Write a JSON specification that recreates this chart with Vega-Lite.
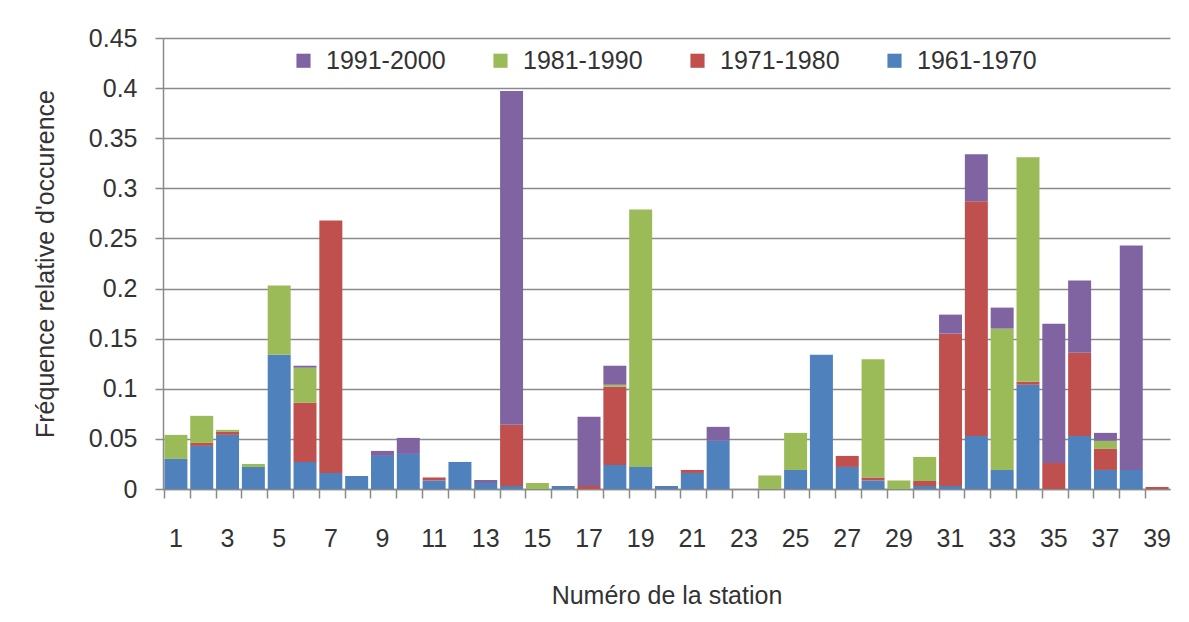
{
  "$schema": "https://vega.github.io/schema/vega-lite/v6.json",
  "autosize": "none",
  "width": 1007,
  "height": 451,
  "padding": {"left": 163, "top": 38, "right": 19, "bottom": 133},
  "background": "white",
  "config": {
    "font": "Liberation Sans",
    "view": {"stroke": null}
  },
  "data": {
    "values": [
      {"station": 1, "1961-1970": 0.030, "1971-1980": 0, "1981-1990": 0.024, "1991-2000": 0},
      {"station": 2, "1961-1970": 0.043, "1971-1980": 0.003, "1981-1990": 0.027, "1991-2000": 0},
      {"station": 3, "1961-1970": 0.054, "1971-1980": 0.003, "1981-1990": 0.002, "1991-2000": 0},
      {"station": 4, "1961-1970": 0.022, "1971-1980": 0, "1981-1990": 0.003, "1991-2000": 0},
      {"station": 5, "1961-1970": 0.134, "1971-1980": 0, "1981-1990": 0.069, "1991-2000": 0},
      {"station": 6, "1961-1970": 0.027, "1971-1980": 0.059, "1981-1990": 0.035, "1991-2000": 0.002},
      {"station": 7, "1961-1970": 0.016, "1971-1980": 0.252, "1981-1990": 0, "1991-2000": 0},
      {"station": 8, "1961-1970": 0.013, "1971-1980": 0, "1981-1990": 0, "1991-2000": 0},
      {"station": 9, "1961-1970": 0.033, "1971-1980": 0, "1981-1990": 0, "1991-2000": 0.005},
      {"station": 10, "1961-1970": 0.035, "1971-1980": 0, "1981-1990": 0, "1991-2000": 0.016},
      {"station": 11, "1961-1970": 0.0085, "1971-1980": 0.003, "1981-1990": 0, "1991-2000": 0},
      {"station": 12, "1961-1970": 0.027, "1971-1980": 0, "1981-1990": 0, "1991-2000": 0},
      {"station": 13, "1961-1970": 0.006, "1971-1980": 0, "1981-1990": 0, "1991-2000": 0.003},
      {"station": 14, "1961-1970": 0.003, "1971-1980": 0.061, "1981-1990": 0, "1991-2000": 0.333},
      {"station": 15, "1961-1970": 0, "1971-1980": 0, "1981-1990": 0.006, "1991-2000": 0},
      {"station": 16, "1961-1970": 0.003, "1971-1980": 0, "1981-1990": 0, "1991-2000": 0},
      {"station": 17, "1961-1970": 0, "1971-1980": 0.003, "1981-1990": 0, "1991-2000": 0.069},
      {"station": 18, "1961-1970": 0.024, "1971-1980": 0.078, "1981-1990": 0.002, "1991-2000": 0.019},
      {"station": 19, "1961-1970": 0.022, "1971-1980": 0, "1981-1990": 0.257, "1991-2000": 0},
      {"station": 20, "1961-1970": 0.003, "1971-1980": 0, "1981-1990": 0, "1991-2000": 0},
      {"station": 21, "1961-1970": 0.016, "1971-1980": 0.003, "1981-1990": 0, "1991-2000": 0},
      {"station": 22, "1961-1970": 0.048, "1971-1980": 0, "1981-1990": 0, "1991-2000": 0.014},
      {"station": 23, "1961-1970": 0, "1971-1980": 0, "1981-1990": 0, "1991-2000": 0},
      {"station": 24, "1961-1970": 0, "1971-1980": 0, "1981-1990": 0.0135, "1991-2000": 0},
      {"station": 25, "1961-1970": 0.019, "1971-1980": 0, "1981-1990": 0.037, "1991-2000": 0},
      {"station": 26, "1961-1970": 0.134, "1971-1980": 0, "1981-1990": 0, "1991-2000": 0},
      {"station": 27, "1961-1970": 0.022, "1971-1980": 0.011, "1981-1990": 0, "1991-2000": 0},
      {"station": 28, "1961-1970": 0.0085, "1971-1980": 0.003, "1981-1990": 0.118, "1991-2000": 0},
      {"station": 29, "1961-1970": 0, "1971-1980": 0, "1981-1990": 0.0085, "1991-2000": 0},
      {"station": 30, "1961-1970": 0.003, "1971-1980": 0.005, "1981-1990": 0.024, "1991-2000": 0},
      {"station": 31, "1961-1970": 0.003, "1971-1980": 0.152, "1981-1990": 0, "1991-2000": 0.019},
      {"station": 32, "1961-1970": 0.053, "1971-1980": 0.234, "1981-1990": 0, "1991-2000": 0.047},
      {"station": 33, "1961-1970": 0.019, "1971-1980": 0, "1981-1990": 0.141, "1991-2000": 0.021},
      {"station": 34, "1961-1970": 0.104, "1971-1980": 0.003, "1981-1990": 0.224, "1991-2000": 0},
      {"station": 35, "1961-1970": 0, "1971-1980": 0.026, "1981-1990": 0, "1991-2000": 0.139},
      {"station": 36, "1961-1970": 0.053, "1971-1980": 0.083, "1981-1990": 0, "1991-2000": 0.072},
      {"station": 37, "1961-1970": 0.019, "1971-1980": 0.021, "1981-1990": 0.008, "1991-2000": 0.008},
      {"station": 38, "1961-1970": 0.019, "1971-1980": 0, "1981-1990": 0, "1991-2000": 0.224},
      {"station": 39, "1961-1970": 0, "1971-1980": 0.002, "1981-1990": 0, "1991-2000": 0}
    ]
  },
  "transform": [
    {"fold": ["1961-1970", "1971-1980", "1981-1990", "1991-2000"], "as": ["period", "value"]}
  ],
  "mark": {"type": "bar"},
  "encoding": {
    "x": {
      "field": "station",
      "type": "ordinal",
      "scale": {
        "domain": [1,2,3,4,5,6,7,8,9,10,11,12,13,14,15,16,17,18,19,20,21,22,23,24,25,26,27,28,29,30,31,32,33,34,35,36,37,38,39],
        "paddingInner": 0.11,
        "paddingOuter": 0.055
      },
      "axis": {
        "title": "Numéro de la station",
        "titleFontSize": 25,
        "titleFontWeight": "normal",
        "titleColor": "#333",
        "titleBaseline": "middle",
        "titleY": 106,
        "labelAngle": 0,
        "labelFontSize": 25,
        "labelColor": "#333",
        "labelExpr": "datum.value % 2 == 1 ? datum.label : ''",
        "bandPosition": 0,
        "tickSize": 9,
        "tickColor": "#8a8a8a",
        "tickWidth": 1.5,
        "labelPadding": 28,
        "domainColor": "#8a8a8a",
        "domainWidth": 1.5,
        "grid": false
      }
    },
    "y": {
      "field": "value",
      "type": "quantitative",
      "stack": "zero",
      "scale": {"domain": [0, 0.45], "nice": false},
      "axis": {
        "title": "Fréquence relative d'occurence",
        "titleFontSize": 25,
        "titleFontWeight": "normal",
        "titleColor": "#333",
        "titleBaseline": "middle",
        "titleX": -118,
        "values": [0, 0.05, 0.1, 0.15, 0.2, 0.25, 0.3, 0.35, 0.4, 0.45],
        "format": ".2~f",
        "labelFontSize": 25,
        "labelColor": "#333",
        "labelPadding": 18,
        "tickSize": 8,
        "tickColor": "#8a8a8a",
        "tickWidth": 1.5,
        "domainColor": "#8a8a8a",
        "domainWidth": 1.5,
        "grid": true,
        "gridColor": "#8a8a8a",
        "gridWidth": 1.5
      }
    },
    "color": {
      "field": "period",
      "type": "nominal",
      "scale": {
        "domain": ["1991-2000", "1981-1990", "1971-1980", "1961-1970"],
        "range": ["#8064A2", "#9BBB59", "#C0504D", "#4F81BD"]
      },
      "legend": {
        "title": null,
        "orient": "none",
        "direction": "horizontal",
        "legendX": 128,
        "legendY": 10,
        "symbolType": "square",
        "symbolSize": 200,
        "symbolStrokeWidth": 0,
        "labelFontSize": 25,
        "labelColor": "#333",
        "labelOffset": 10,
        "columnPadding": 42
      }
    },
    "order": {"field": "period", "sort": "ascending"}
  }
}
